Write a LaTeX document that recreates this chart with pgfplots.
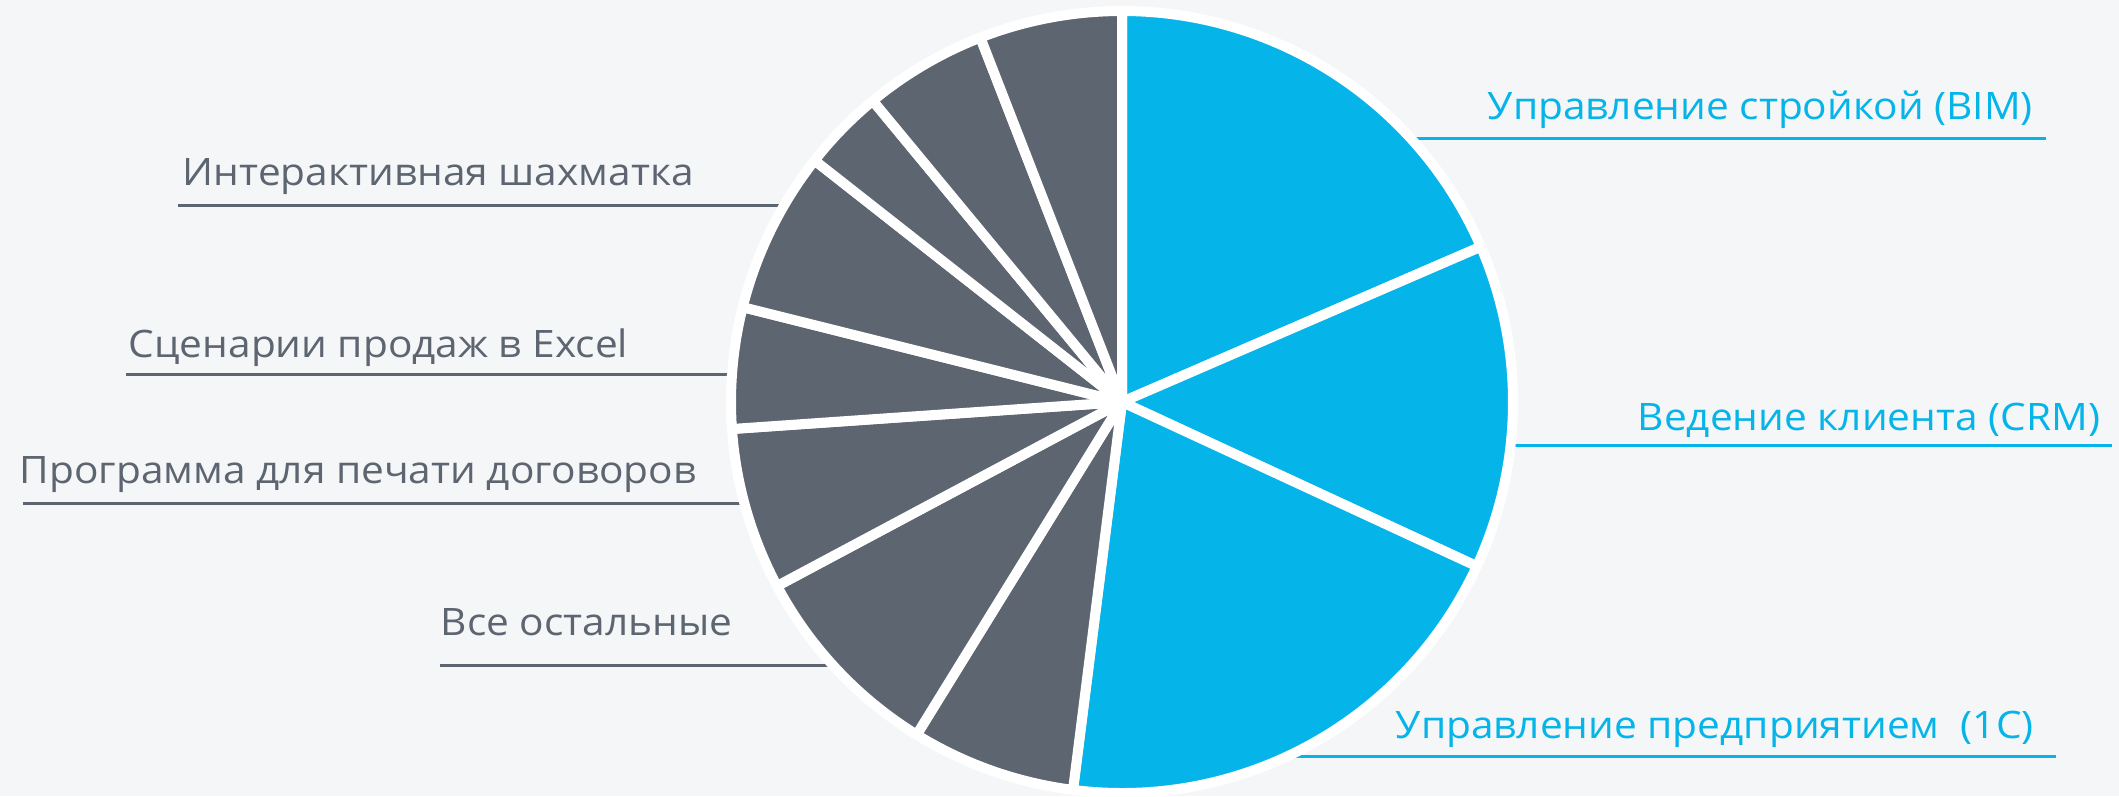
\documentclass[border=0pt]{standalone}
\usepackage{pgfplots}
\usepackage{pgfplotstable}
\pgfplotsset{compat=1.18}
\usepackage{fontspec}
\setmainfont{Open Sans}[FakeStretch=1.075]
\definecolor{bgcol}{HTML}{F5F6F8}
\definecolor{cgray}{HTML}{5C6570}
\definecolor{cblue}{HTML}{05B4E8}

% share of each slice, in per cent, clockwise from 12 o'clock
\pgfplotstableread{
name value col
BIM   18.5 cblue
CRM   13.4 cblue
1C    20.1 cblue
g1     6.8 cgray
rest   8.4 cgray
print  6.7 cgray
excel  5.0 cgray
chess  6.7 cgray
g6     3.4 cgray
g7     5.1 cgray
g8     5.9 cgray
}\piedata

\begin{document}
\begin{tikzpicture}
\begin{axis}[
  width=529.75pt, height=199pt, scale only axis,
  xmin=0, xmax=2119, ymin=0, ymax=796,
  hide axis, clip=false,
]
\fill[bgcol] (rel axis cs:0,0) rectangle (rel axis cs:1,1);

% leader lines
\draw[cgray, line width=0.75pt] (axis cs:178,591) -- (axis cs:1122,591);
\draw[cgray, line width=0.75pt] (axis cs:126,422) -- (axis cs:1122,422);
\draw[cgray, line width=0.75pt] (axis cs:23,293) -- (axis cs:1122,293);
\draw[cgray, line width=0.75pt] (axis cs:440,131) -- (axis cs:1122,131);
\draw[cblue, line width=0.75pt] (axis cs:1122,658) -- (axis cs:2046,658);
\draw[cblue, line width=0.75pt] (axis cs:1122,351) -- (axis cs:2112,351);
\draw[cblue, line width=0.75pt] (axis cs:1122,40) -- (axis cs:2056,40);

% pie
\pgfplotstablegetrowsof{\piedata}
\pgfmathtruncatemacro\N{\pgfplotsretval-1}
\def\cumul{90}
\pgfplotsforeachungrouped \i in {0,...,\N}{%
  \pgfplotstablegetelem{\i}{value}\of\piedata
  \pgfmathsetmacro\ang{\pgfplotsretval*3.6}%
  \pgfplotstablegetelem{\i}{col}\of\piedata
  \let\col\pgfplotsretval
  \pgfmathsetmacro\endang{\cumul-\ang}%
  \pgfmathsetmacro\sx{1122+391*cos(\cumul)}%
  \pgfmathsetmacro\sy{394+391*sin(\cumul)}%
  \edef\temp{\noexpand\filldraw[overlay, fill=\col, draw=white, line width=2.5pt, line join=round]
    (axis cs:1122,394) -- (axis cs:\sx,\sy)
    arc[start angle=\cumul, end angle=\endang, radius=97.75pt] -- cycle;}%
  \temp
  \global\let\cumul\endang
}

% labels
\tikzset{lab/.style={anchor=base west, inner sep=0pt, font=\fontsize{9.45pt}{11pt}\selectfont}}
\node[lab, text=cgray] at (axis cs:182,611) {Интерактивная шахматка};
\node[lab, text=cgray] at (axis cs:128,439) {Сценарии продаж в Excel};
\node[lab, text=cgray] at (axis cs:19,313) {Программа для печати договоров};
\node[lab, text=cgray] at (axis cs:440,161) {Все остальные};
\node[lab, text=cblue] at (axis cs:1487,677) {Управление стройкой (BIM)};
\node[lab, text=cblue] at (axis cs:1637,366) {Ведение клиента (CRM)};
\node[lab, text=cblue] at (axis cs:1395,58) {Управление предприятием\ \ (1С)};
\end{axis}
\end{tikzpicture}
\end{document}
